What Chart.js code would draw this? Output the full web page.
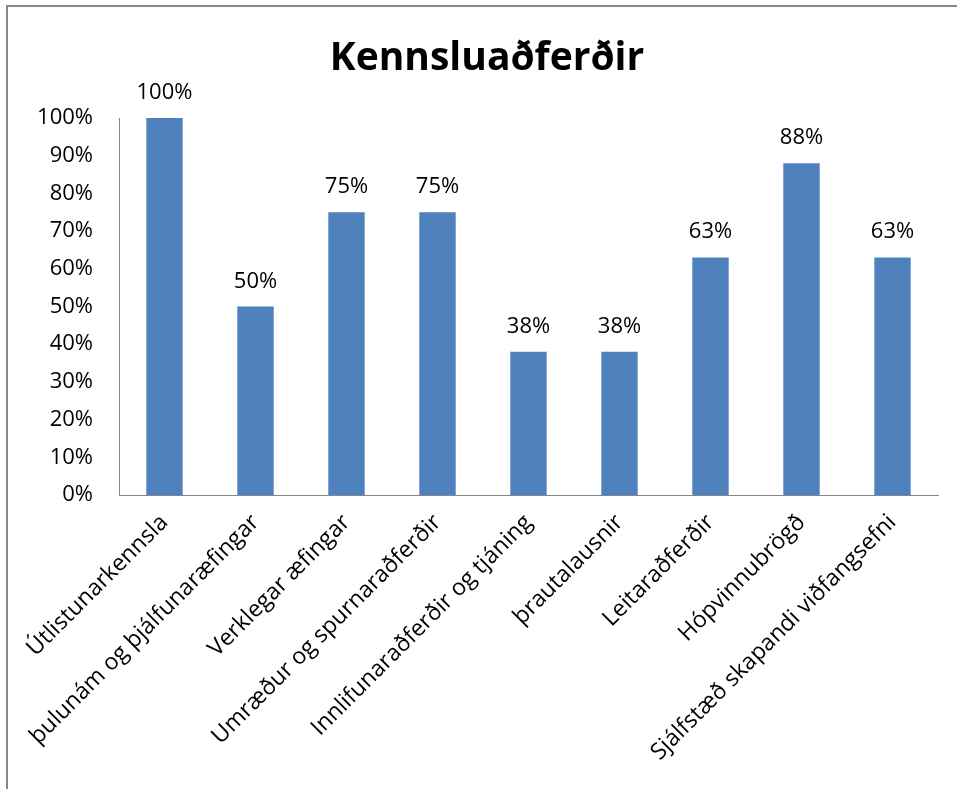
<!DOCTYPE html>
<html>
<head>
<meta charset="utf-8">
<title>Kennsluaðferðir</title>
<script src="https://cdn.jsdelivr.net/npm/chart.js@4/dist/chart.umd.min.js"></script>
<style>
    html, body { margin: 0; padding: 0; background: #fff; overflow: hidden; }
    #wrap { position: relative; width: 957px; height: 789px; }
    #frame {
        position: absolute; left: 6px; top: 5px; width: 1000px; height: 1000px;
        border-left: 2px solid #888; border-top: 2px solid #888;
    }
    #myChart { position: absolute; left: 0; top: 0; }
</style>
</head>
<body>
<div id="wrap">
    <div id="frame"></div>
    <canvas id="myChart" width="957" height="789"></canvas>
</div>
<script>
// chart data
const categories = [
    'Útlistunarkennsla',
    'þulunám og þjálfunaræfingar',
    'Verklegar æfingar',
    'Umræður og spurnaraðferðir',
    'Innlifunaraðferðir og tjáning',
    'þrautalausnir',
    'Leitaraðferðir',
    'Hópvinnubrögð',
    'Sjálfstæð skapandi viðfangsefni'
];
const percentValues = [100, 50, 75, 75, 38, 38, 63, 88, 63];
const yTicks = [0, 10, 20, 30, 40, 50, 60, 70, 80, 90, 100];

const FONT = "'Open Sans', sans-serif";

// writes the percentage above every bar
const barLabels = {
    id: 'barLabels',
    afterDatasetsDraw(chart) {
        const ctx = chart.ctx;
        const meta = chart.getDatasetMeta(0);
        ctx.save();
        ctx.font = '22px ' + FONT;
        ctx.fillStyle = '#000';
        ctx.textAlign = 'center';
        ctx.textBaseline = 'alphabetic';
        meta.data.forEach(function (bar, i) {
            ctx.fillText(percentValues[i] + '%', bar.x, bar.y - 19);
        });
        ctx.restore();
    }
};

document.addEventListener('DOMContentLoaded', function () {
    const ctx = document.getElementById('myChart').getContext('2d');
    const myChart = new Chart(ctx, {
        type: 'bar',
        data: {
            labels: categories,
            datasets: [{
                data: percentValues,
                backgroundColor: '#4F81BD',
                borderWidth: 0,
                categoryPercentage: 1,
                barPercentage: 0.4
            }]
        },
        options: {
            responsive: false,
            animation: false,
            devicePixelRatio: 1,
            layout: { padding: { left: 36, right: 19, top: 35, bottom: 0 } },
            plugins: {
                legend: { display: false },
                tooltip: { enabled: false },
                title: {
                    display: true,
                    text: 'Kennsluaðferðir',
                    color: '#000',
                    font: { family: FONT, size: 39, weight: 'bold', lineHeight: 1.2 },
                    padding: { top: 0, bottom: 36.2 }
                }
            },
            scales: {
                x: {
                    grid: { display: false, drawTicks: false },
                    border: { display: true, color: '#868686', width: 1 },
                    ticks: {
                        color: '#000',
                        font: { family: FONT, size: 23 },
                        minRotation: 45,
                        maxRotation: 45,
                        autoSkip: false,
                        padding: 14
                    },
                    afterFit(scale) {
                        scale.height = 294;
                        scale.paddingLeft = 0;
                        scale.paddingRight = 0;
                    }
                },
                y: {
                    min: 0,
                    max: 100,
                    afterBuildTicks(scale) {
                        scale.ticks = yTicks.map(v => ({ value: v }));
                    },
                    grid: { display: false, drawTicks: false },
                    border: { display: true, color: '#868686', width: 1 },
                    ticks: {
                        color: '#000',
                        font: { family: FONT, size: 22 },
                        padding: 26,
                        callback: v => v + '%'
                    },
                    afterFit(scale) {
                        scale.width = 83;
                    }
                }
            }
        },
        plugins: [barLabels]
    });
});
</script>
</body>
</html>
